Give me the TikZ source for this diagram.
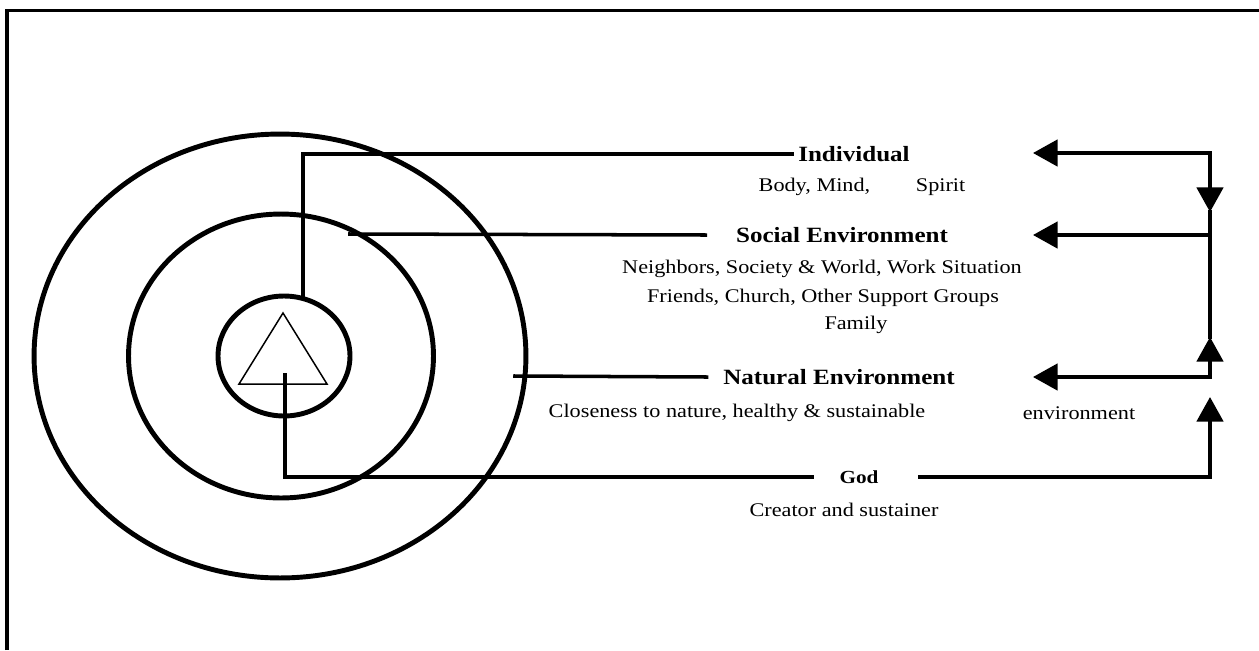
\documentclass[tikz,border=0pt]{standalone}
\usepackage{fontspec}
\setmainfont{Liberation Serif}[FakeStretch=1.15]
\usetikzlibrary{arrows.meta,shapes.geometric}
\tikzset{
  ring/.style={draw,ellipse,line width=2.8pt,inner sep=0pt},
  link/.style={line width=2pt,line cap=rect},
  feed/.style={link,-{Triangle[length=14pt,width=15pt]}},
  head/.style={font=\fontsize{12.4}{14}\selectfont\bfseries},
  sub/.style={font=\fontsize{11}{13}\selectfont},
}
\begin{document}
\begin{tikzpicture}[x=0.02cm,y=-0.02cm]
    \useasboundingbox (0,0) rectangle (1259,650);
    %% frame
    \draw[line width=1.8pt] (7,650) -- (7,10.5) -- (1259,10.5);
    %% rings and triangle
    \node[ring,minimum width=9.84cm,minimum height=8.88cm] (outer) at (280,356) {};
    \node[ring,minimum width=6.1cm,minimum height=5.68cm] (middle) at (281,356) {};
    \node[ring,minimum width=2.64cm,minimum height=2.4cm] (inner) at (284,356) {};
    \draw[line width=0.85pt] (283,313) -- (327,384) -- (239,384) -- cycle;
    \coordinate (indstart) at (303,297);
    \coordinate (socstart) at (350,234);
    \coordinate (natstart) at (515,376);
    \coordinate (godstart) at (285,375);
    %% labels
    \node[head] (ind) at (854,154) {Individual};
    \node[sub] (indsub) at (862,187) {Body, Mind,\hspace{26pt}Spirit};
    \node[head] (soc) at (842,235) {Social Environment};
    \node[sub] (socsub1) at (822,269) {Neighbors, Society \& World, Work Situation};
    \node[sub] (socsub2) at (823,298) {Friends, Church, Other Support Groups};
    \node[sub] (socsub3) at (856,325) {Family};
    \node[head] (nat) at (839,377) {Natural Environment};
    \node[sub] (natsub1) at (737,413) {Closeness to nature, healthy \& sustainable};
    \node[sub] (natsub2) at (1079,413) {environment};
    \node[head,font=\fontsize{10.5}{12}\selectfont\bfseries] (god) at (859,477) {God};
    \node[sub] (godsub) at (844,510) {Creator and sustainer};
    %% connectors
    \draw[link] (indstart) |- (ind.west);
    \draw[link] (socstart) -- ([xshift=-14pt]soc.west);
    \draw[link] (natstart) -- ([xshift=-6pt]nat.west);
    \draw[link] (godstart) |- ([xshift=-12pt]god.west);
    %% feedback rail
    \coordinate (railind) at (1210,153);
    \coordinate (railsoc) at (1210,235);
    \coordinate (railnat) at (1210,377);
    \coordinate (raildown) at (1210,212);
    \coordinate (railup) at (1210,337);
    \draw[feed] ([xshift=20pt]god.east) -| (1210,397);
    \draw[feed] (railind) -- (1033,153);
    \draw[feed] (railsoc) -- (1033,235);
    \draw[feed] (railnat) -- (1033,377);
    \draw[feed] (railind) -- (raildown);
    \draw[link] (raildown) -- (railup);
    \draw[feed] (railnat) -- (railup);
\end{tikzpicture}
\end{document}
